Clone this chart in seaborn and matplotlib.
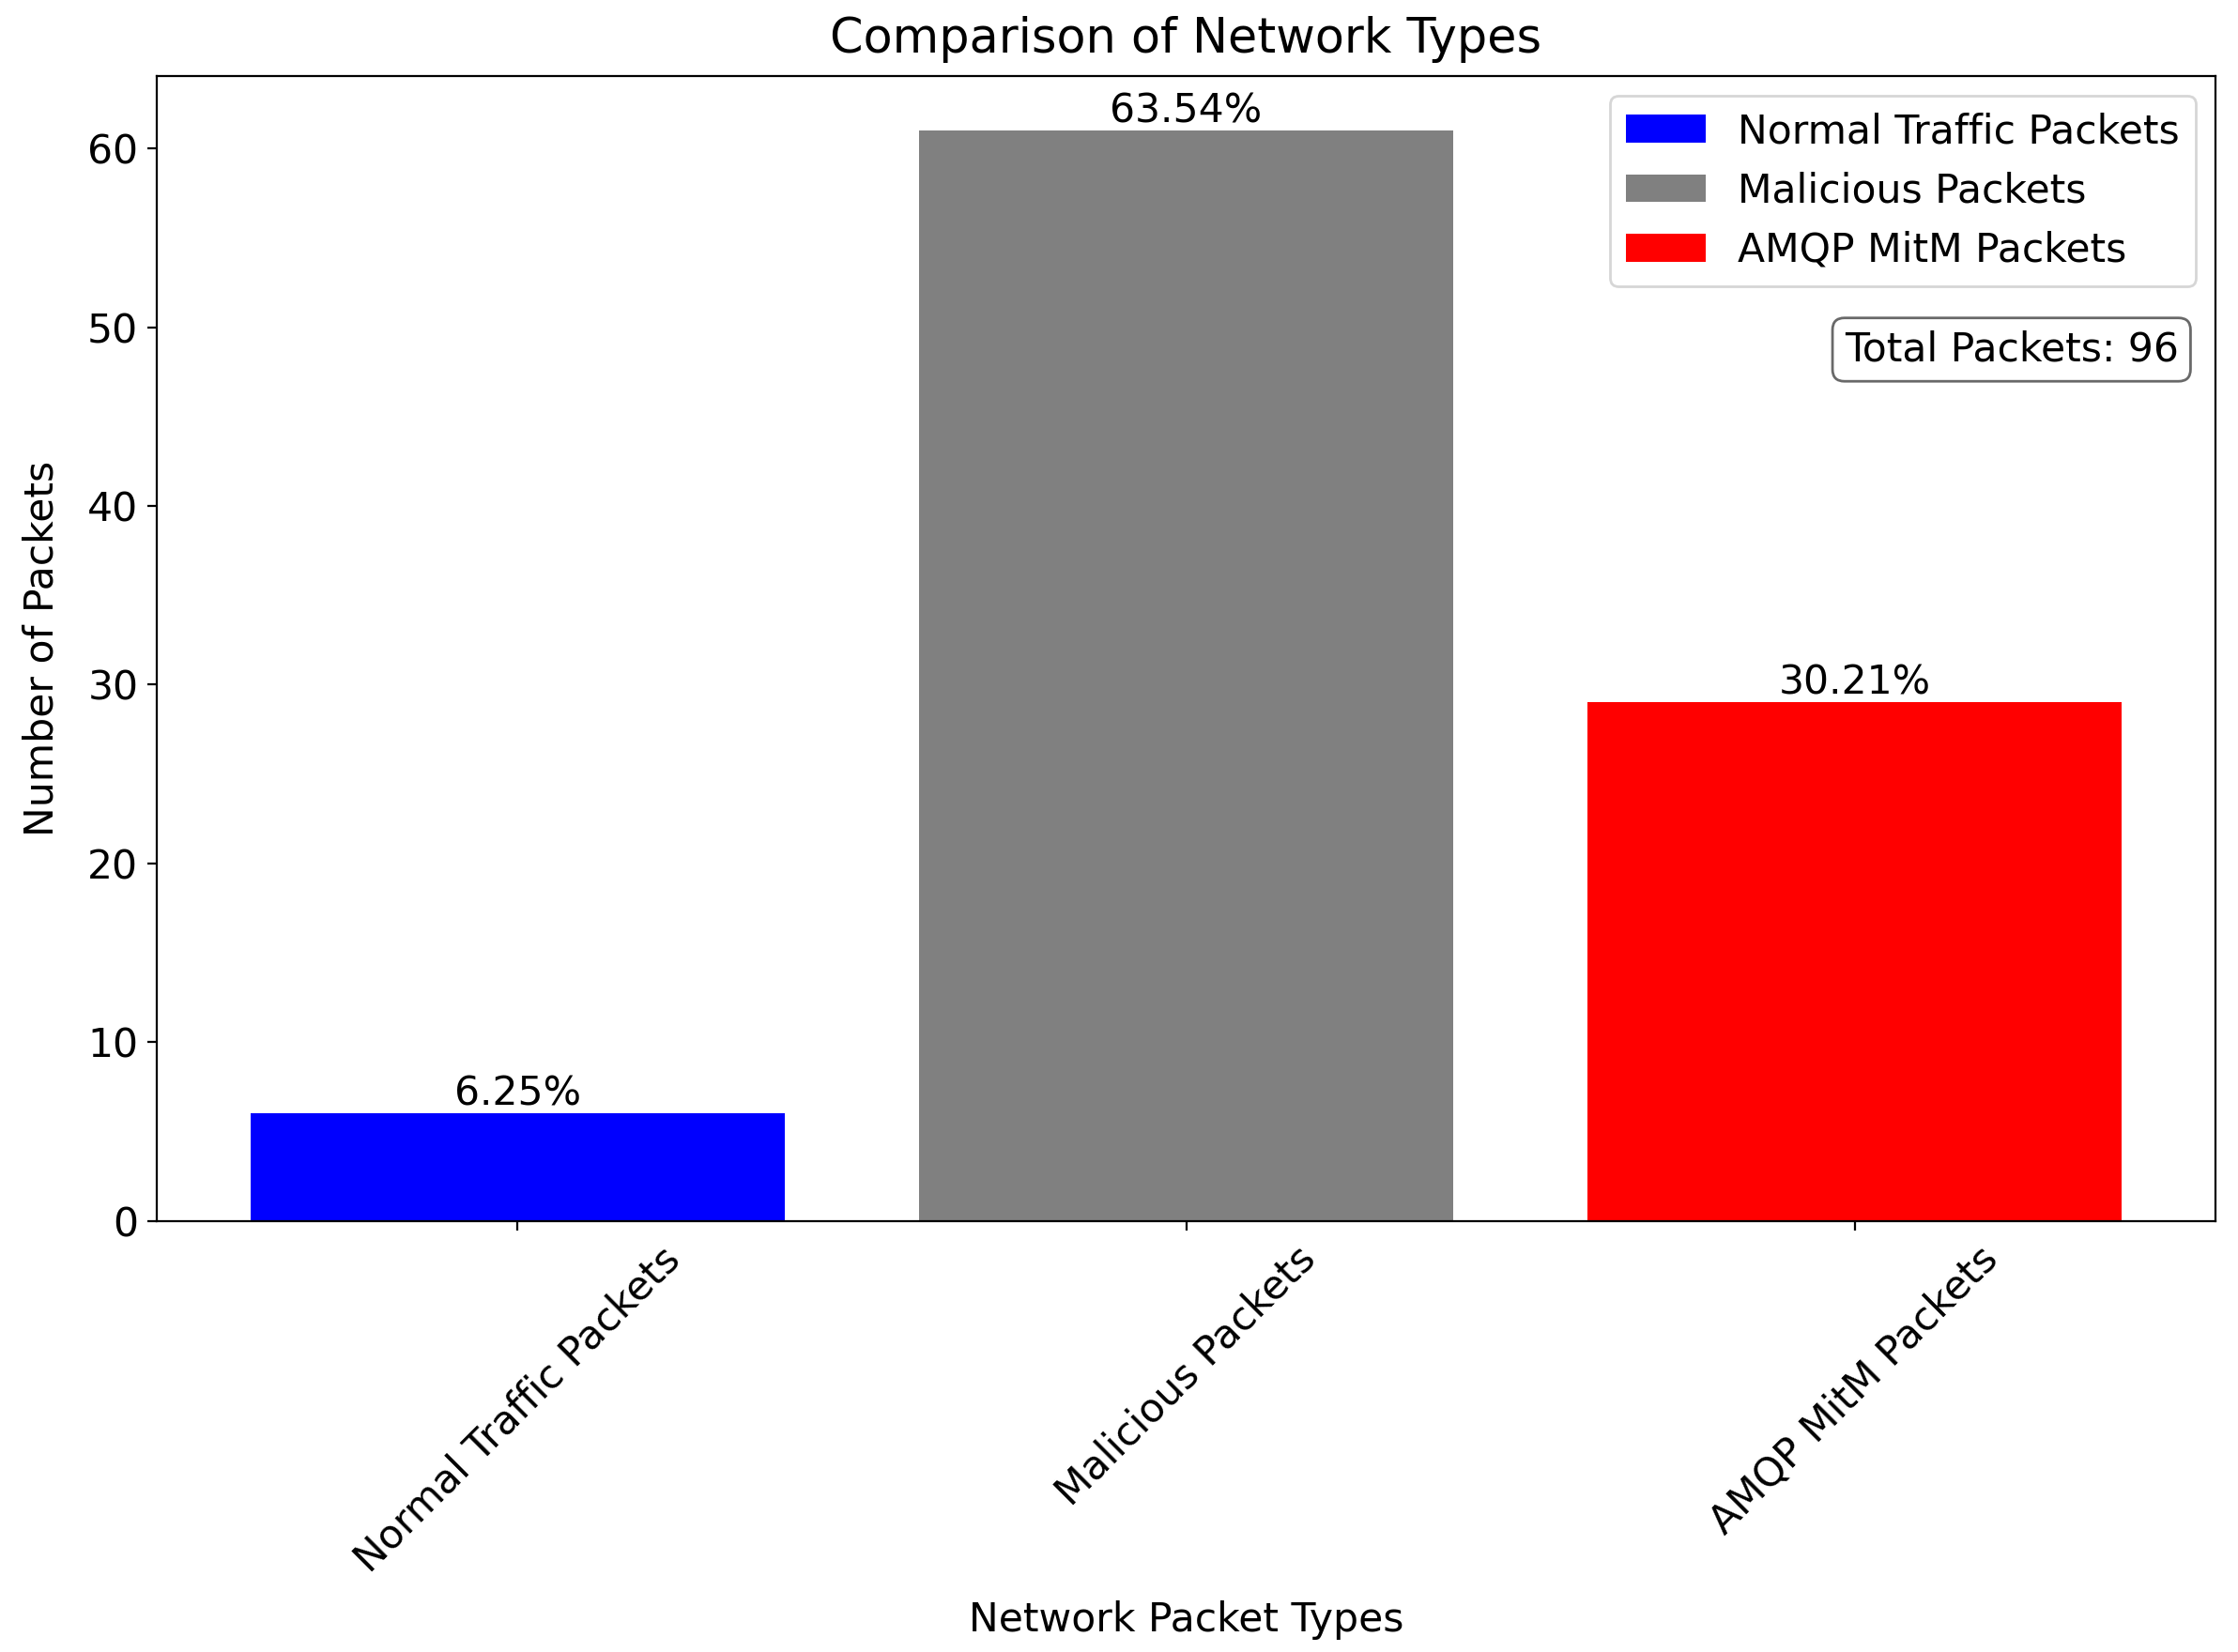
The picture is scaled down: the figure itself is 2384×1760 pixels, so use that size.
import matplotlib
matplotlib.use("Agg")
import matplotlib.pyplot as plt
import pandas as pd
import seaborn as sns

# packet counts per type
categorias = ["Normal Traffic Packets", "Malicious Packets", "AMQP MitM Packets"]
paquetes = [6, 61, 29]
colores = ["blue", "gray", "red"]

total = sum(paquetes)
datos = pd.DataFrame({"tipo": categorias, "cantidad": paquetes})
datos["porcentaje"] = datos.cantidad / total * 100

plt.rcParams["font.family"] = "DejaVu Sans"
plt.rcParams["font.size"] = 15.3

fig, ax = plt.subplots(figsize=(11.92, 8.8), dpi=200)
fig.subplots_adjust(left=0.070, right=0.990, bottom=0.261, top=0.954)

sns.barplot(data=datos, x="tipo", y="cantidad", hue="tipo", palette=colores,
            saturation=1, width=0.8, legend=False, ax=ax)

for barra, pct in zip(ax.patches, datos.porcentaje):
    ax.text(barra.get_x() + barra.get_width() / 2, barra.get_height(),
            f"{pct:.2f}%", ha="center", va="bottom")

ax.set_xlim(-0.54, 2.54)
ax.set_ylim(0, max(paquetes) * 1.05)
plt.setp(ax.get_xticklabels(), rotation=45, ha="center")

ax.legend(handles=list(ax.patches), labels=categorias, loc="upper right")
ax.text(0.982, 0.761, f"Total Packets: {total}", transform=ax.transAxes,
        ha="right", va="center",
        bbox=dict(boxstyle="round", facecolor="white", edgecolor="dimgray"))

ax.set_title("Comparison of Network Types", fontsize=18.3, pad=9)
ax.set_xlabel("Network Packet Types", labelpad=8)
ax.set_ylabel("Number of Packets", labelpad=10)

fig.savefig("out.png", dpi=200)
